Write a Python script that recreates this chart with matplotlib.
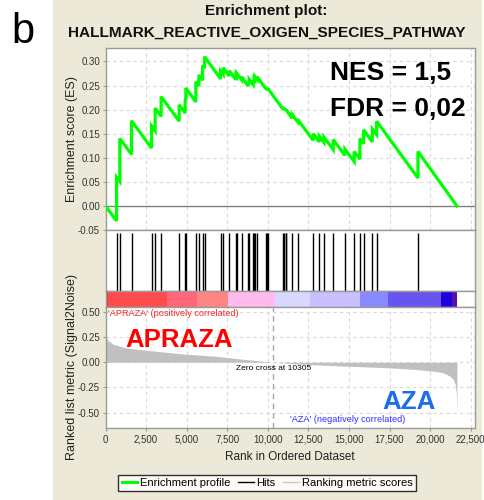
import matplotlib
matplotlib.use('Agg')
import matplotlib.pyplot as plt
from matplotlib.lines import Line2D
from matplotlib.patches import Rectangle

plt.rcParams['font.family'] = ['Liberation Sans', 'DejaVu Sans']

# ---------------- data ----------------
N_GENES = 21650
hit_ranks = [678, 882, 1603, 2836, 3058, 3427, 4537, 4907, 4950, 5567, 5752, 5980, 6103,
             7089, 7250, 7619, 8032, 8076, 8384, 8791, 8852, 9099, 9160, 9204, 9345,
             9863, 9962, 10024, 10911, 11010, 11096, 11115, 11503, 11836, 12797, 13167,
             13457, 14030, 14752, 15325, 15676, 15904, 16435, 16706, 19252]
es_before = [-0.031, 0.051, 0.107, 0.120, 0.156, 0.186, 0.176, 0.193, 0.220, 0.216, 0.249, 0.261, 0.286,
             0.264, 0.273, 0.270, 0.262, 0.268, 0.262, 0.249, 0.254, 0.252, 0.257, 0.262, 0.263,
             0.244, 0.241, 0.241, 0.202, 0.200, 0.199, 0.199, 0.182, 0.175, 0.136, 0.133,
             0.132, 0.117, 0.105, 0.092, 0.097, 0.129, 0.133, 0.148, 0.058]
es_after = [0.060, 0.140, 0.177, 0.166, 0.203, 0.227, 0.210, 0.222, 0.245, 0.258, 0.272, 0.292, 0.310,
            0.280, 0.287, 0.281, 0.270, 0.276, 0.268, 0.257, 0.263, 0.260, 0.264, 0.269, 0.268,
            0.246, 0.244, 0.243, 0.205, 0.203, 0.200, 0.200, 0.190, 0.180, 0.150, 0.145,
            0.143, 0.138, 0.118, 0.113, 0.140, 0.158, 0.160, 0.176, 0.113]
es_start = 0.0
es_end = 0.0

metric_ranks = [0, 60, 160, 470, 1294, 2731, 4785, 6843, 8075, 9200, 10305, 12000, 13500,
                15060, 17500, 19170, 20300, 20810, 21200, 21430, 21550, 21610, 21640, 21650]
metric_values = [0.27, 0.24, 0.214, 0.178, 0.141, 0.115, 0.082, 0.059, 0.036, 0.018, 0.0, -0.018, -0.03,
                 -0.04, -0.055, -0.072, -0.09, -0.105, -0.135, -0.17, -0.22, -0.30, -0.45, -0.61]
zero_cross = 10305

band_edges = [0, 150, 3760, 5610, 7560, 10440, 12594, 15676, 17402, 20669, 21329, 21650]
band_colors = ['#E53535', '#FF4D4D', '#FF6677', '#FF8585', '#FFBBEE', '#D8D8FF',
               '#C8C0FF', '#8888FF', '#6655EE', '#2200DD', '#5511AA']

x_ticks = [0, 2500, 5000, 7500, 10000, 12500, 15000, 17500, 20000, 22500]
x_ticklabels = ['0', '2,500', '5,000', '7,500', '10,000', '12,500', '15,000', '17,500', '20,000', '22,500']
es_ticks = [-0.05, 0.0, 0.05, 0.10, 0.15, 0.20, 0.25, 0.30]
metric_ticks = [-0.5, -0.25, 0.0, 0.25, 0.5]

title1 = 'Enrichment plot:'
title2 = 'HALLMARK_REACTIVE_OXIGEN_SPECIES_PATHWAY'
nes_text = 'NES = 1,5'
fdr_text = 'FDR = 0,02'

# ---------------- figure ----------------
W, H = 484, 500
fig = plt.figure(figsize=(W / 100, H / 100), dpi=100)
fig.patch.set_facecolor('white')
fig.add_artist(Rectangle((53 / W, 0), (482 - 53) / W, 1, transform=fig.transFigure,
                         facecolor='#ECE9D8', edgecolor='none', zorder=0))

XMAX = 22765
SPINE = '#9a9a9a'
GRID = '#d9d9d9'
TICKC = '#333333'


def ax_px(x0, y0, x1, y1):
    a = fig.add_axes([x0 / W, 1 - y1 / H, (x1 - x0) / W, (y1 - y0) / H])
    a.set_facecolor('white')
    for s in a.spines.values():
        s.set_color(SPINE)
        s.set_linewidth(1.0)
    a.set_xlim(0, XMAX)
    return a


# top panel: enrichment score
ax1 = ax_px(105.5, 48, 475, 230)
xs = [0]
ys = [es_start]
for r, b, a in zip(hit_ranks, es_before, es_after):
    xs += [r, r]
    ys += [b, a]
xs.append(N_GENES)
ys.append(es_end)
ax1.set_ylim(-0.05, 0.328)
ax1.set_xticks(x_ticks)
ax1.set_yticks(es_ticks)
ax1.set_yticklabels(['%.2f' % v for v in es_ticks])
ax1.tick_params(axis='x', length=0, labelbottom=False)
ax1.tick_params(axis='y', length=2, color=SPINE, labelsize=7, labelcolor=TICKC, pad=2)
ax1.grid(True, color=GRID, linestyle=(0, (3, 3)), linewidth=0.8)
ax1.set_axisbelow(True)
ax1.axhline(0, color='#808080', lw=1, zorder=2)
ax1.plot(xs, ys, color='#00FF00', lw=2.3, zorder=3, solid_joinstyle='miter')
ax1.set_ylabel('Enrichment score (ES)', fontsize=9, color='#222222')
ax1.yaxis.set_label_coords((78 - 105.5) / 369.5, 0.5)

# hits panel
ax2 = ax_px(105.5, 230, 475, 291)
ax2.set_ylim(0, 1)
ax2.vlines(hit_ranks, 0, 0.955, color='black', lw=1)
ax2.set_xticks([])
ax2.set_yticks([])

# colour bar
ax3 = ax_px(105.5, 291, 475, 307)
ax3.set_ylim(0, 1)
for i, c in enumerate(band_colors):
    ax3.axvspan(band_edges[i], band_edges[i + 1], color=c, lw=0)
ax3.set_xticks([])
ax3.set_yticks([])

# ranked list metric panel
ax4 = ax_px(105.5, 307, 475, 428)
ax4.set_ylim(-0.651, 0.547)
ax4.set_xticks(x_ticks)
ax4.set_xticklabels(x_ticklabels)
ax4.set_yticks(metric_ticks)
ax4.set_yticklabels(['%.2f' % v for v in metric_ticks])
ax4.tick_params(axis='both', length=2, color=SPINE, labelsize=7, labelcolor=TICKC, pad=2)
ax4.tick_params(axis='x', pad=3)
ax4.grid(True, color=GRID, linestyle=(0, (3, 3)), linewidth=0.8)
ax4.set_axisbelow(True)
ax4.fill_between(metric_ranks, metric_values, 0, color='#C0C0C0', lw=0, zorder=2)
ax4.axvline(zero_cross, color='#A8A8A8', lw=1, ls=(0, (4, 3)), zorder=3)
ax4.set_ylabel('Ranked list metric (Signal2Noise)', fontsize=9, color='#222222')
ax4.yaxis.set_label_coords((78 - 105.5) / 369.5, 0.5)

# texts in the ranked panel
fig.text(107.5 / W, 1 - 314 / H, "'APRAZA' (positively correlated)", color='#F02828',
         fontsize=6.6, ha='left', va='center')
fig.text(290 / W, 1 - 420 / H, "'AZA' (negatively correlated)", color='#3030FF',
         fontsize=6.6, ha='left', va='center')
fig.text(236 / W, 1 - 369 / H, 'Zero cross at %d' % zero_cross, color='black',
         fontsize=6.0, ha='left', va='center')
fig.text(125 / W, 1 - 347 / H, 'APRAZA', color='#FF0000', fontsize=18.5,
         fontweight='bold', ha='left', va='baseline')
fig.text(382 / W, 1 - 409 / H, 'AZA', color='#1A6FE8', fontsize=18.7,
         fontweight='bold', ha='left', va='baseline')

# x label
fig.text(290 / W, 1 - 456.5 / H, 'Rank in Ordered Dataset', fontsize=8.5,
         color='#222222', ha='center', va='center')

# statistics
fig.text(330.5 / W, 1 - 80 / H, nes_text, fontsize=19, fontweight='bold',
         color='black', ha='left', va='baseline')
fig.text(330.5 / W, 1 - 116 / H, fdr_text, fontsize=19, fontweight='bold',
         color='black', ha='left', va='baseline')

# titles
fig.text(266 / W, 1 - 11.5 / H, title1, fontsize=11.1, fontweight='bold',
         color='#111111', ha='center', va='center')
fig.text(266.5 / W, 1 - 32.5 / H, title2, fontsize=11.1, fontweight='bold',
         color='#111111', ha='center', va='center')
fig.text(11 / W, 1 - 43 / H, 'b', fontsize=30, color='black', ha='left', va='baseline')

# legend
handles = [Line2D([], [], color='#00FF00', lw=2.2),
           Line2D([], [], color='black', lw=1),
           Line2D([], [], color='#C8C8C8', lw=1)]
labels = ['Enrichment profile', 'Hits', 'Ranking metric scores']
leg = fig.legend(handles, labels, loc='center', bbox_to_anchor=(267 / W, 1 - 483 / H),
                 ncol=3, frameon=True, fancybox=False, edgecolor='black', fontsize=8,
                 handlelength=1.4, handletextpad=0.25, columnspacing=0.7,
                 borderpad=0.3, borderaxespad=0)
leg.get_frame().set_linewidth(1.0)
leg.get_frame().set_facecolor('white')

fig.savefig('out.png', dpi=100)
